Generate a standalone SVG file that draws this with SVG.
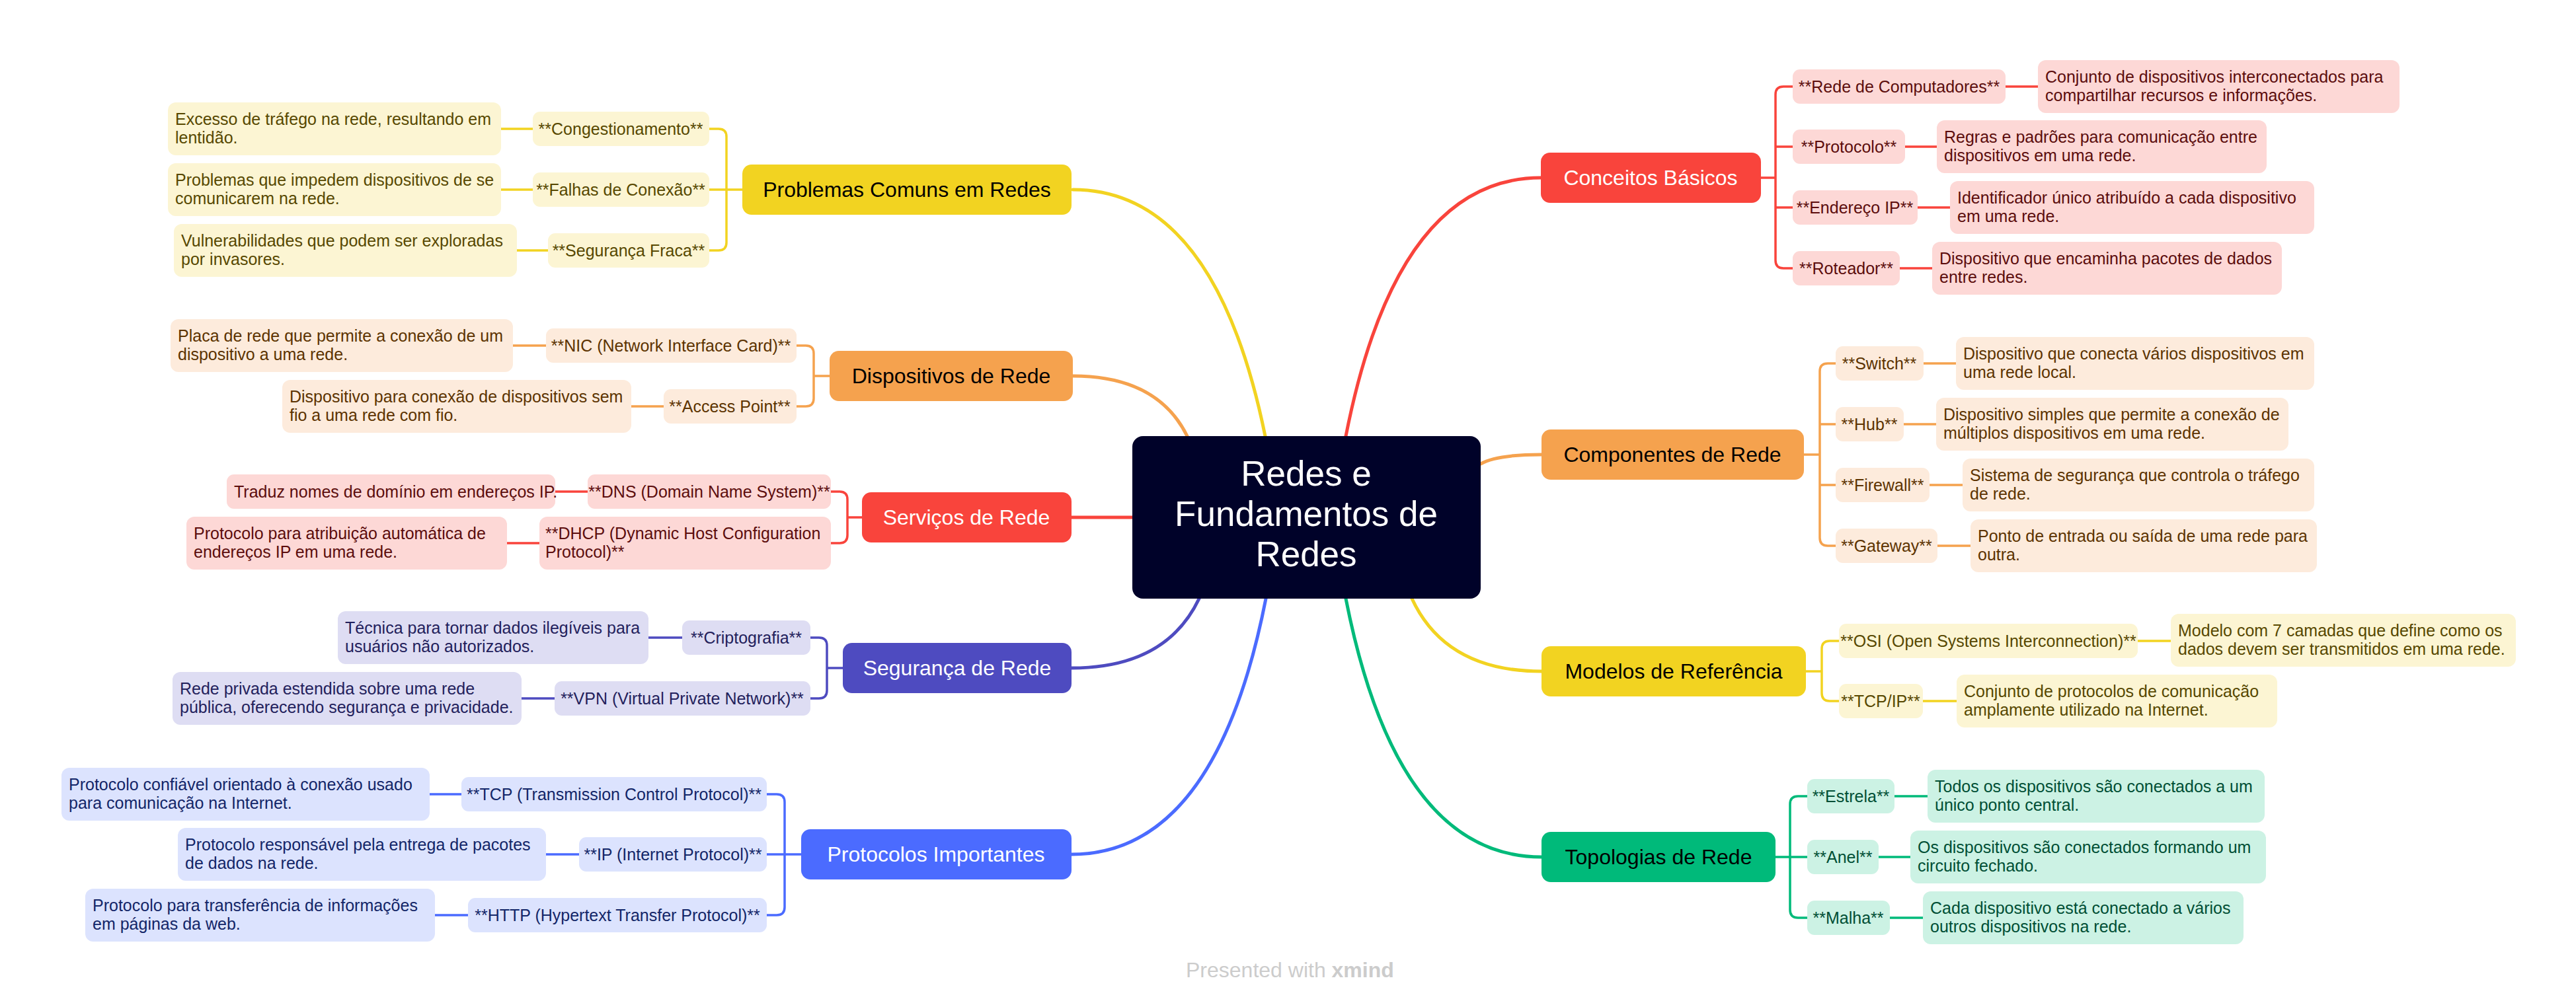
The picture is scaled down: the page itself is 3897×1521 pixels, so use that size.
<svg xmlns="http://www.w3.org/2000/svg" width="3897" height="1521" viewBox="0 0 3897 1521">
<style>
text{font-family:"Liberation Sans",Arial,sans-serif}
.mt{font-size:32px;text-anchor:middle}
.lt{font-size:25px;text-anchor:middle}
.lt2{font-size:25px}
.dt{font-size:25px}
.ct{font-size:53px;text-anchor:middle;fill:#fff}
.w{fill:#fff}.k{fill:#000}
.red .m{fill:#F9443C}.red .s{fill:#FDD8D6}.red .lt,.red .lt2,.red .dt{fill:#5C0D0D}
.ora .m{fill:#F5A24E}.ora .s{fill:#FDEBDC}.ora .lt,.ora .dt{fill:#5C3300}
.yel .m{fill:#F2D321}.yel .s{fill:#FCF5D3}.yel .lt,.yel .dt{fill:#574800}
.grn .m{fill:#00BA7A}.grn .s{fill:#CCF2E4}.grn .lt,.grn .dt{fill:#004F35}
.ind .m{fill:#4E4BC0}.ind .s{fill:#DEDDF3}.ind .lt,.ind .dt{fill:#23215C}
.blu .m{fill:#4B6BFF}.blu .s{fill:#DCE3FE}.blu .lt,.blu .dt{fill:#132668}
#connectors path{fill:none;stroke-linecap:round;stroke-linejoin:round}
.main{stroke-width:5}
.sub{stroke-width:3.5}
.cr{stroke:#F9443C}.co{stroke:#F5A24E}.cy{stroke:#F2D321}.cg{stroke:#00BA7A}.ci{stroke:#4E4BC0}.cb{stroke:#4B6BFF}
</style>
<rect width="3897" height="1521" fill="#fff"/>
<g id="connectors">
<path class="main cr" d="M2036 660 Q2113 269 2331 269"/>
<path class="main co" d="M2240 702 Q2264 688 2332 688"/>
<path class="main cy" d="M2136 906 Q2187 1016 2332 1016"/>
<path class="main cg" d="M2036 906 Q2113 1297 2332 1297"/>
<path class="main cy" d="M1914 660 Q1838 287 1623 287"/>
<path class="main co" d="M1796 660 Q1751 569 1623 569"/>
<path class="main cr" d="M1621 783 L1713 783"/>
<path class="main ci" d="M1814 906 Q1764 1011 1621 1011"/>
<path class="main cb" d="M1915 906 Q1839 1293 1621 1293"/>
<path class="sub cr" d="M2664 269 H2686 M2712 131 H2698 Q2686 131 2686 143 V394 Q2686 406 2698 406 H2712 M2686 222 H2712 M2686 314 H2712 M3034 131 H3083 M2882 222 H2930 M2901 314 H2950 M2874 406 H2923"/>
<path class="sub co" d="M2729 688 H2753 M2777 550 H2765 Q2753 550 2753 562 V814 Q2753 826 2765 826 H2777 M2753 642 H2777 M2753 734 H2777 M2910 550 H2959 M2880 642 H2929 M2919 734 H2969 M2931 826 H2981"/>
<path class="sub cy" d="M2732 1016 H2756 M2782 970 H2768 Q2756 970 2756 982 V1049 Q2756 1061 2768 1061 H2782 M3234 970 H3284 M2909 1061 H2960"/>
<path class="sub cg" d="M2686 1297 H2734 M2734 1205 H2720 Q2708 1205 2708 1217 V1377 Q2708 1389 2720 1389 H2734 M2866 1205 H2916 M2842 1297 H2890 M2859 1389 H2909"/>
<path class="sub cy" d="M1123 287 H1073 M1073 195 H1087 Q1099 195 1099 207 V367 Q1099 379 1087 379 H1073 M806 195 H758 M806 287 H758 M829 379 H782"/>
<path class="sub co" d="M1255 569 H1231 M1205 523 H1219 Q1231 523 1231 535 V603 Q1231 615 1219 615 H1205 M826 523 H776 M1004 615 H955"/>
<path class="sub cr" d="M1304 783 H1282 M1257 744 H1270 Q1282 744 1282 756 V810 Q1282 822 1270 822 H1257 M889 744 H840 M816 822 H767"/>
<path class="sub ci" d="M1275 1011 H1251 M1226 965 H1239 Q1251 965 1251 977 V1045 Q1251 1057 1239 1057 H1226 M1032 965 H981 M839 1057 H789"/>
<path class="sub cb" d="M1212 1293 H1160 M1160 1202 H1175 Q1187 1202 1187 1214 V1373 Q1187 1385 1175 1385 H1160 M698 1202 H650 M876 1293 H826 M708 1385 H658"/>
</g>

<g id="central">
<rect x="1713" y="660" width="527" height="246" rx="16" fill="#000229"/>
<text class="ct" x="1976" y="735">Redes e</text>
<text class="ct" x="1976" y="796">Fundamentos de</text>
<text class="ct" x="1976" y="857">Redes</text>
</g>

<!-- Conceitos Básicos -->
<g id="conceitos" class="red">
<rect class="m" x="2331" y="231" width="333" height="76" rx="14"/>
<text class="mt w" x="2497" y="280">Conceitos Básicos</text>
</g>
<g id="rede-computadores" class="red">
<rect class="s" x="2712" y="105" width="322" height="52" rx="11"/>
<text class="lt" x="2873" y="140">**Rede de Computadores**</text>
<rect class="s" x="3083" y="91" width="547" height="80" rx="12"/>
<text class="dt" x="3094" y="125">Conjunto de dispositivos interconectados para</text>
<text class="dt" x="3094" y="153">compartilhar recursos e informações.</text>
</g>
<g id="protocolo" class="red">
<rect class="s" x="2712" y="196" width="170" height="52" rx="11"/>
<text class="lt" x="2797" y="231">**Protocolo**</text>
<rect class="s" x="2930" y="182" width="499" height="80" rx="12"/>
<text class="dt" x="2941" y="216">Regras e padrões para comunicação entre</text>
<text class="dt" x="2941" y="244">dispositivos em uma rede.</text>
</g>
<g id="endereco-ip" class="red">
<rect class="s" x="2712" y="288" width="189" height="52" rx="11"/>
<text class="lt" x="2806" y="323">**Endereço IP**</text>
<rect class="s" x="2950" y="274" width="551" height="80" rx="12"/>
<text class="dt" x="2961" y="308">Identificador único atribuído a cada dispositivo</text>
<text class="dt" x="2961" y="336">em uma rede.</text>
</g>
<g id="roteador" class="red">
<rect class="s" x="2712" y="380" width="162" height="52" rx="11"/>
<text class="lt" x="2793" y="415">**Roteador**</text>
<rect class="s" x="2923" y="366" width="529" height="80" rx="12"/>
<text class="dt" x="2934" y="400">Dispositivo que encaminha pacotes de dados</text>
<text class="dt" x="2934" y="428">entre redes.</text>
</g>

<!-- Componentes de Rede -->
<g id="componentes" class="ora">
<rect class="m" x="2332" y="650" width="397" height="76" rx="14"/>
<text class="mt k" x="2530" y="699">Componentes de Rede</text>
</g>
<g id="switch" class="ora">
<rect class="s" x="2777" y="524" width="133" height="52" rx="11"/>
<text class="lt" x="2843" y="559">**Switch**</text>
<rect class="s" x="2959" y="510" width="542" height="80" rx="12"/>
<text class="dt" x="2970" y="544">Dispositivo que conecta vários dispositivos em</text>
<text class="dt" x="2970" y="572">uma rede local.</text>
</g>
<g id="hub" class="ora">
<rect class="s" x="2777" y="616" width="103" height="52" rx="11"/>
<text class="lt" x="2828" y="651">**Hub**</text>
<rect class="s" x="2929" y="602" width="533" height="80" rx="12"/>
<text class="dt" x="2940" y="636">Dispositivo simples que permite a conexão de</text>
<text class="dt" x="2940" y="664">múltiplos dispositivos em uma rede.</text>
</g>
<g id="firewall" class="ora">
<rect class="s" x="2777" y="708" width="142" height="52" rx="11"/>
<text class="lt" x="2848" y="743">**Firewall**</text>
<rect class="s" x="2969" y="694" width="532" height="80" rx="12"/>
<text class="dt" x="2980" y="728">Sistema de segurança que controla o tráfego</text>
<text class="dt" x="2980" y="756">de rede.</text>
</g>
<g id="gateway" class="ora">
<rect class="s" x="2777" y="800" width="154" height="52" rx="11"/>
<text class="lt" x="2854" y="835">**Gateway**</text>
<rect class="s" x="2981" y="786" width="524" height="80" rx="12"/>
<text class="dt" x="2992" y="820">Ponto de entrada ou saída de uma rede para</text>
<text class="dt" x="2992" y="848">outra.</text>
</g>

<!-- Modelos de Referência -->
<g id="modelos" class="yel">
<rect class="m" x="2332" y="978" width="400" height="76" rx="14"/>
<text class="mt k" x="2532" y="1027">Modelos de Referência</text>
</g>
<g id="osi" class="yel">
<rect class="s" x="2782" y="944" width="452" height="52" rx="11"/>
<text class="lt" x="3008" y="979">**OSI (Open Systems Interconnection)**</text>
<rect class="s" x="3284" y="929" width="522" height="80" rx="12"/>
<text class="dt" x="3295" y="963">Modelo com 7 camadas que define como os</text>
<text class="dt" x="3295" y="991">dados devem ser transmitidos em uma rede.</text>
</g>
<g id="tcpip" class="yel">
<rect class="s" x="2782" y="1035" width="127" height="52" rx="11"/>
<text class="lt" x="2845" y="1070">**TCP/IP**</text>
<rect class="s" x="2960" y="1021" width="485" height="80" rx="12"/>
<text class="dt" x="2971" y="1055">Conjunto de protocolos de comunicação</text>
<text class="dt" x="2971" y="1083">amplamente utilizado na Internet.</text>
</g>

<!-- Topologias de Rede -->
<g id="topologias" class="grn">
<rect class="m" x="2332" y="1259" width="354" height="76" rx="14"/>
<text class="mt k" x="2509" y="1308">Topologias de Rede</text>
</g>
<g id="estrela" class="grn">
<rect class="s" x="2734" y="1179" width="132" height="52" rx="11"/>
<text class="lt" x="2800" y="1214">**Estrela**</text>
<rect class="s" x="2916" y="1165" width="510" height="80" rx="12"/>
<text class="dt" x="2927" y="1199">Todos os dispositivos são conectados a um</text>
<text class="dt" x="2927" y="1227">único ponto central.</text>
</g>
<g id="anel" class="grn">
<rect class="s" x="2734" y="1271" width="108" height="52" rx="11"/>
<text class="lt" x="2788" y="1306">**Anel**</text>
<rect class="s" x="2890" y="1257" width="538" height="80" rx="12"/>
<text class="dt" x="2901" y="1291">Os dispositivos são conectados formando um</text>
<text class="dt" x="2901" y="1319">circuito fechado.</text>
</g>
<g id="malha" class="grn">
<rect class="s" x="2734" y="1363" width="125" height="52" rx="11"/>
<text class="lt" x="2796" y="1398">**Malha**</text>
<rect class="s" x="2909" y="1349" width="485" height="80" rx="12"/>
<text class="dt" x="2920" y="1383">Cada dispositivo está conectado a vários</text>
<text class="dt" x="2920" y="1411">outros dispositivos na rede.</text>
</g>

<!-- Problemas Comuns em Redes -->
<g id="problemas" class="yel">
<rect class="m" x="1123" y="249" width="498" height="76" rx="14"/>
<text class="mt k" x="1372" y="298">Problemas Comuns em Redes</text>
</g>
<g id="congestionamento" class="yel">
<rect class="s" x="806" y="169" width="267" height="52" rx="11"/>
<text class="lt" x="939" y="204">**Congestionamento**</text>
<rect class="s" x="254" y="155" width="504" height="80" rx="12"/>
<text class="dt" x="265" y="189">Excesso de tráfego na rede, resultando em</text>
<text class="dt" x="265" y="217">lentidão.</text>
</g>
<g id="falhas" class="yel">
<rect class="s" x="806" y="261" width="267" height="52" rx="11"/>
<text class="lt" x="939" y="296">**Falhas de Conexão**</text>
<rect class="s" x="254" y="247" width="504" height="80" rx="12"/>
<text class="dt" x="265" y="281">Problemas que impedem dispositivos de se</text>
<text class="dt" x="265" y="309">comunicarem na rede.</text>
</g>
<g id="seguranca-fraca" class="yel">
<rect class="s" x="829" y="353" width="244" height="52" rx="11"/>
<text class="lt" x="951" y="388">**Segurança Fraca**</text>
<rect class="s" x="263" y="339" width="519" height="80" rx="12"/>
<text class="dt" x="274" y="373">Vulnerabilidades que podem ser exploradas</text>
<text class="dt" x="274" y="401">por invasores.</text>
</g>

<!-- Dispositivos de Rede -->
<g id="dispositivos" class="ora">
<rect class="m" x="1255" y="531" width="368" height="76" rx="14"/>
<text class="mt k" x="1439" y="580">Dispositivos de Rede</text>
</g>
<g id="nic" class="ora">
<rect class="s" x="826" y="497" width="379" height="52" rx="11"/>
<text class="lt" x="1015" y="532">**NIC (Network Interface Card)**</text>
<rect class="s" x="258" y="483" width="518" height="80" rx="12"/>
<text class="dt" x="269" y="517">Placa de rede que permite a conexão de um</text>
<text class="dt" x="269" y="545">dispositivo a uma rede.</text>
</g>
<g id="access-point" class="ora">
<rect class="s" x="1004" y="589" width="201" height="52" rx="11"/>
<text class="lt" x="1104" y="624">**Access Point**</text>
<rect class="s" x="427" y="575" width="528" height="80" rx="12"/>
<text class="dt" x="438" y="609">Dispositivo para conexão de dispositivos sem</text>
<text class="dt" x="438" y="637">fio a uma rede com fio.</text>
</g>

<!-- Serviços de Rede -->
<g id="servicos" class="red">
<rect class="m" x="1304" y="745" width="317" height="76" rx="14"/>
<text class="mt w" x="1462" y="794">Serviços de Rede</text>
</g>
<g id="dns" class="red">
<rect class="s" x="889" y="718" width="368" height="52" rx="11"/>
<text class="lt" x="1073" y="753">**DNS (Domain Name System)**</text>
<rect class="s" x="343" y="718" width="497" height="52" rx="11"/>
<text class="dt" x="354" y="753">Traduz nomes de domínio em endereços IP.</text>
</g>
<g id="dhcp" class="red">
<rect class="s" x="816" y="782" width="441" height="80" rx="12"/>
<text class="lt2" x="825" y="816">**DHCP (Dynamic Host Configuration</text>
<text class="lt2" x="825" y="844">Protocol)**</text>
<rect class="s" x="282" y="782" width="485" height="80" rx="12"/>
<text class="dt" x="293" y="816">Protocolo para atribuição automática de</text>
<text class="dt" x="293" y="844">endereços IP em uma rede.</text>
</g>

<!-- Segurança de Rede -->
<g id="seguranca" class="ind">
<rect class="m" x="1275" y="973" width="346" height="76" rx="14"/>
<text class="mt w" x="1448" y="1022">Segurança de Rede</text>
</g>
<g id="criptografia" class="ind">
<rect class="s" x="1032" y="939" width="194" height="52" rx="11"/>
<text class="lt" x="1129" y="974">**Criptografia**</text>
<rect class="s" x="511" y="925" width="470" height="80" rx="12"/>
<text class="dt" x="522" y="959">Técnica para tornar dados ilegíveis para</text>
<text class="dt" x="522" y="987">usuários não autorizados.</text>
</g>
<g id="vpn" class="ind">
<rect class="s" x="839" y="1031" width="387" height="52" rx="11"/>
<text class="lt" x="1032" y="1066">**VPN (Virtual Private Network)**</text>
<rect class="s" x="261" y="1017" width="528" height="80" rx="12"/>
<text class="dt" x="272" y="1051">Rede privada estendida sobre uma rede</text>
<text class="dt" x="272" y="1079">pública, oferecendo segurança e privacidade.</text>
</g>

<!-- Protocolos Importantes -->
<g id="protocolos" class="blu">
<rect class="m" x="1212" y="1255" width="409" height="76" rx="14"/>
<text class="mt w" x="1416" y="1304">Protocolos Importantes</text>
</g>
<g id="tcp" class="blu">
<rect class="s" x="698" y="1176" width="462" height="52" rx="11"/>
<text class="lt" x="929" y="1211">**TCP (Transmission Control Protocol)**</text>
<rect class="s" x="93" y="1162" width="557" height="80" rx="12"/>
<text class="dt" x="104" y="1196">Protocolo confiável orientado à conexão usado</text>
<text class="dt" x="104" y="1224">para comunicação na Internet.</text>
</g>
<g id="ip" class="blu">
<rect class="s" x="876" y="1267" width="284" height="52" rx="11"/>
<text class="lt" x="1018" y="1302">**IP (Internet Protocol)**</text>
<rect class="s" x="269" y="1253" width="557" height="80" rx="12"/>
<text class="dt" x="280" y="1287">Protocolo responsável pela entrega de pacotes</text>
<text class="dt" x="280" y="1315">de dados na rede.</text>
</g>
<g id="http" class="blu">
<rect class="s" x="708" y="1359" width="452" height="52" rx="11"/>
<text class="lt" x="934" y="1394">**HTTP (Hypertext Transfer Protocol)**</text>
<rect class="s" x="129" y="1345" width="529" height="80" rx="12"/>
<text class="dt" x="140" y="1379">Protocolo para transferência de informações</text>
<text class="dt" x="140" y="1407">em páginas da web.</text>
</g>

<g id="footer">
<text x="1794" y="1479" font-size="32" fill="#cccccc">Presented with <tspan font-weight="bold">xmind</tspan></text>
</g>
</svg>
